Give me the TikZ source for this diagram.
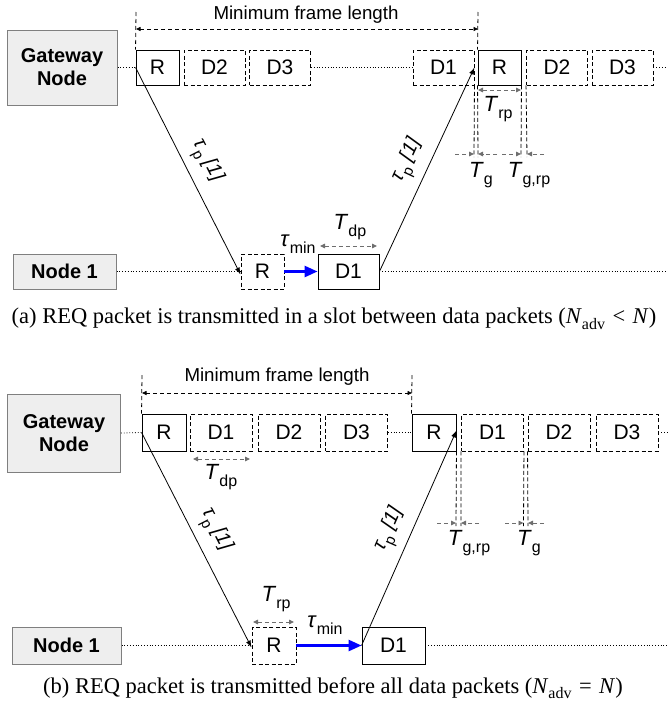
\documentclass[tikz,border=0pt]{standalone}
\usepackage{fontspec}
\setmainfont{Liberation Serif}
\setsansfont{Liberation Sans}
\usetikzlibrary{arrows.meta}
\definecolor{arrgray}{HTML}{6E6E6E}
\definecolor{boxfill}{HTML}{EEEEEE}
\definecolor{boxline}{HTML}{7F7F7F}
\newcommand{\Tlab}[1]{\textit{T}\raisebox{-0.32em}{\fontsize{16}{16}\selectfont #1}}
\newcommand{\taulab}[1]{\textit{τ}\raisebox{-0.32em}{\fontsize{16}{16}\selectfont #1}}
\newcommand{\taup}{{\fontsize{20}{20}\selectfont\textit{τ}\raisebox{-0.32em}{\fontsize{15}{15}\selectfont p} \textit{[1]}}}
\begin{document}
\begin{tikzpicture}[x=1pt,y=-1pt,
  every node/.style={font=\sffamily},
  solidbox/.style={draw=black, line width=0.9pt, minimum height=35pt, inner sep=0pt, font=\sffamily\fontsize{21}{21}\selectfont},
  dashbox/.style={solidbox, dash pattern=on 4pt off 2.5pt},
  rbox/.style={minimum width=43pt},
  dbox/.style={minimum width=61pt},
  nodebox/.style={draw=boxline, fill=boxfill, line width=1pt, font=\sffamily\bfseries\fontsize{20}{23}\selectfont, align=center, inner sep=0pt},
  dotline/.style={line width=0.8pt, dash pattern=on 0.8pt off 2pt},
  frameline/.style={line width=0.8pt, dash pattern=on 4pt off 3pt},
  framearrow/.style={frameline, {Triangle[length=4.5pt,width=4pt]}-{Triangle[length=4.5pt,width=4pt]}},
  gapline/.style={line width=0.8pt, dash pattern=on 4pt off 2.5pt},
  garrow/.style={draw=arrgray, line width=0.9pt, dash pattern=on 4pt off 3pt, -{Triangle[length=5pt,width=4.5pt]}},
  gdarrow/.style={draw=arrgray, line width=0.9pt, dash pattern=on 4pt off 3pt, {Triangle[length=5pt,width=4.5pt]}-{Triangle[length=5pt,width=4.5pt]}},
  proparrow/.style={line width=0.8pt, -{Latex[length=7pt,width=5pt]}},
  bluearrow/.style={draw=blue, line width=2.6pt, -{Triangle[length=13pt,width=11pt]}},
  tlabel/.style={font=\sffamily\fontsize{22}{22}\selectfont, inner sep=0pt},
  minlabel/.style={font=\sffamily\fontsize{18.7}{20}\selectfont, inner sep=0pt},
  caption/.style={font=\rmfamily\fontsize{22.5}{24}\selectfont, inner sep=0pt}
]
\useasboundingbox (0,0) rectangle (667,704);

% ================= Panel (a) =================
\node[nodebox, minimum width=110pt, minimum height=75pt] (gwa) at (62,67.5) {Gateway\\Node};
\node[solidbox, rbox] (aR1) at (157.5,67.5) {R};
\node[dashbox, dbox] (aD2) at (214.5,67.5) {D2};
\node[dashbox, dbox] (aD3) at (280,67.5) {D3};
\node[dashbox, dbox] (aD1) at (443.5,67.5) {D1};
\node[solidbox, rbox] (aR2) at (499.5,67.5) {R};
\node[dashbox, dbox] (aD2b) at (557,67.5) {D2};
\node[dashbox, dbox] (aD3b) at (622.5,67.5) {D3};
\coordinate (aend) at (667,67.5);
\draw[dotline] (gwa.east) -- (aR1.west);
\draw[dotline] (aD3.east) -- (aD1.west);
\draw[dotline] (aD3b.east) -- (aend);

% minimum frame length
\coordinate (amf1) at (136,12);
\coordinate (amf2) at (478,12);
\coordinate (amfa) at (136,29);
\coordinate (amfb) at (478,29);
\draw[frameline] (amf1) -- (aR1.north west);
\draw[frameline] (amf2) -- (aR2.north west);
\draw[framearrow] (amfa) -- (amfb);
\node[minlabel] (amflab) at (306,15) {Minimum frame length};

% guard lines
\coordinate (ag1) at (474,157);
\coordinate (ag2) at (478,157);
\coordinate (ag3) at (521,157);
\coordinate (ag4) at (527,157);
\draw[gapline] (aD1.south east) -- (ag1);
\draw[gapline] (aR2.south west) -- (ag2);
\draw[gapline] (aR2.south east) -- (ag3);
\draw[gapline] (aD2b.south west) -- (ag4);
\coordinate (aga1) at (455,154);
\coordinate (agt1) at (474,154);
\coordinate (aga2) at (497,154);
\coordinate (agt2) at (478,154);
\coordinate (aga3) at (502,154);
\coordinate (agt3) at (521,154);
\coordinate (aga4) at (544,154);
\coordinate (agt4) at (527,154);
\draw[garrow] (aga1) -- (agt1);
\draw[garrow] (aga2) -- (agt2);
\draw[garrow] (aga3) -- (agt3);
\draw[garrow] (aga4) -- (agt4);
\node[tlabel] (aTg) at (481,175) {\Tlab{g}};
\node[tlabel] (aTgrp) at (529,175) {\Tlab{g,rp}};

% T_rp
\coordinate (arp1) at (478,90);
\coordinate (arp2) at (521,90);
\draw[gdarrow] (arp1) -- (arp2);
\node[tlabel] (aTrp) at (498,109) {\Tlab{rp}};

% node 1 row
\node[nodebox, minimum width=103pt, minimum height=35pt] (n1a) at (64.5,271.5) {Node 1};
\node[dashbox, rbox] (aRn) at (262.5,271.5) {R};
\node[solidbox, dbox] (aD1n) at (348.5,271.5) {D1};
\coordinate (anend) at (667,271.5);
\draw[dotline] (n1a.east) -- (aRn.west);
\draw[dotline] (aD1n.east) -- (anend);
\draw[bluearrow] (aRn.east) -- (aD1n.west);
\node[tlabel] (atmin) at (298,244) {\taulab{min}};
\coordinate (adp1) at (320,246);
\coordinate (adp2) at (377,246);
\draw[gdarrow] (adp1) -- (adp2);
\node[tlabel] (aTdp) at (350,227) {\Tlab{dp}};

% propagation lines
\draw[proparrow] (aR1.west) -- ([yshift=-3pt]aRn.west) node[midway, sloped, above=8pt, inner sep=0pt] (atau1) {\taup};
\draw[proparrow] (aD1n.east) -- (aD1.east) node[midway, sloped, above=8pt, inner sep=0pt] (atau2) {\taup};

\node[caption] (capa) at (334,319) {(a) REQ packet is transmitted in a slot between data packets (\textit{N}\raisebox{-0.25em}{\fontsize{16}{16}\selectfont adv}\,\,<\,\,\textit{N})};

% ================= Panel (b) =================
\node[nodebox, minimum width=113pt, minimum height=78pt] (gwb) at (64,433) {Gateway\\Node};
\node[solidbox, rbox, minimum height=37pt, minimum width=44pt] (bR1) at (164,432.5) {R};
\node[dashbox, dbox, minimum height=37pt, minimum width=62pt] (bD1) at (221,432.5) {D1};
\node[dashbox, dbox, minimum height=37pt, minimum width=62pt] (bD2) at (289,432.5) {D2};
\node[dashbox, dbox, minimum height=37pt, minimum width=62pt] (bD3) at (356.5,432.5) {D3};
\node[solidbox, rbox, minimum height=37pt, minimum width=44pt] (bR2) at (434,432.5) {R};
\node[dashbox, dbox, minimum height=37pt, minimum width=62pt] (bD1b) at (492.5,432.5) {D1};
\node[dashbox, dbox, minimum height=37pt, minimum width=62pt] (bD2b) at (559,432.5) {D2};
\node[dashbox, dbox, minimum height=37pt, minimum width=62pt] (bD3b) at (627,432.5) {D3};
\coordinate (bend) at (667,432.5);
\draw[dotline] (gwb.east) -- (bR1.west);
\draw[dotline] (bD3.east) -- (bR2.west);
\draw[dotline] (bD3b.east) -- (bend);

% minimum frame length
\coordinate (bmf1) at (142,375);
\coordinate (bmf2) at (412,375);
\coordinate (bmfa) at (142,393);
\coordinate (bmfb) at (412,393);
\draw[frameline] (bmf1) -- (bR1.north west);
\draw[frameline] (bmf2) -- (bR2.north west);
\draw[framearrow] (bmfa) -- (bmfb);
\node[minlabel] (bmflab) at (277,377) {Minimum frame length};

% T_dp
\coordinate (bdp1) at (193,459);
\coordinate (bdp2) at (250,459);
\draw[gdarrow] (bdp1) -- (bdp2);
\node[tlabel] (bTdp) at (221,477) {\Tlab{dp}};

% guard lines
\coordinate (bg1) at (456,526);
\coordinate (bg2) at (461,526);
\coordinate (bg3) at (523.5,526);
\coordinate (bg4) at (528,526);
\draw[gapline] (bR2.south east) -- (bg1);
\draw[gapline] (bD1b.south west) -- (bg2);
\draw[gapline] (bD1b.south east) -- (bg3);
\draw[gapline] (bD2b.south west) -- (bg4);
\coordinate (bga1) at (437,523);
\coordinate (bgt1) at (456,523);
\coordinate (bga2) at (479,523);
\coordinate (bgt2) at (461,523);
\coordinate (bga3) at (505,523);
\coordinate (bgt3) at (523.5,523);
\coordinate (bga4) at (544,523);
\coordinate (bgt4) at (528,523);
\draw[garrow] (bga1) -- (bgt1);
\draw[garrow] (bga2) -- (bgt2);
\draw[garrow] (bga3) -- (bgt3);
\draw[garrow] (bga4) -- (bgt4);
\node[tlabel] (bTgrp) at (469,543) {\Tlab{g,rp}};
\node[tlabel] (bTg) at (529,543) {\Tlab{g}};

% node 1 row
\node[nodebox, minimum width=109pt, minimum height=37pt] (n1b) at (66.5,645.5) {Node 1};
\node[dashbox, rbox, minimum height=37pt, minimum width=44pt] (bRn) at (274,645.5) {R};
\node[solidbox, dbox, minimum height=37pt, minimum width=63pt] (bD1n) at (393.5,645.5) {D1};
\coordinate (bnend) at (667,645.5);
\draw[dotline] (n1b.east) -- (bRn.west);
\draw[dotline] (bD1n.east) -- (bnend);
\draw[bluearrow] (bRn.east) -- (bD1n.west);
\node[tlabel] (btmin) at (325,625) {\taulab{min}};
\coordinate (brp1) at (253,622);
\coordinate (brp2) at (294,622);
\draw[gdarrow] (brp1) -- (brp2);
\node[tlabel] (bTrp) at (276,599) {\Tlab{rp}};

% propagation lines
\draw[proparrow] (bR1.west) -- ([yshift=-2pt]bRn.west) node[midway, sloped, above=8pt, inner sep=0pt] (btau1) {\taup};
\draw[proparrow] (bD1n.west) -- ([yshift=2pt]bR2.east) node[midway, sloped, above=8pt, inner sep=0pt] (btau2) {\taup};

\node[caption] (capb) at (333,688) {(b) REQ packet is transmitted before all data packets (\textit{N}\raisebox{-0.25em}{\fontsize{16}{16}\selectfont adv}\,\,=\,\,\textit{N})};
\end{tikzpicture}
\end{document}
